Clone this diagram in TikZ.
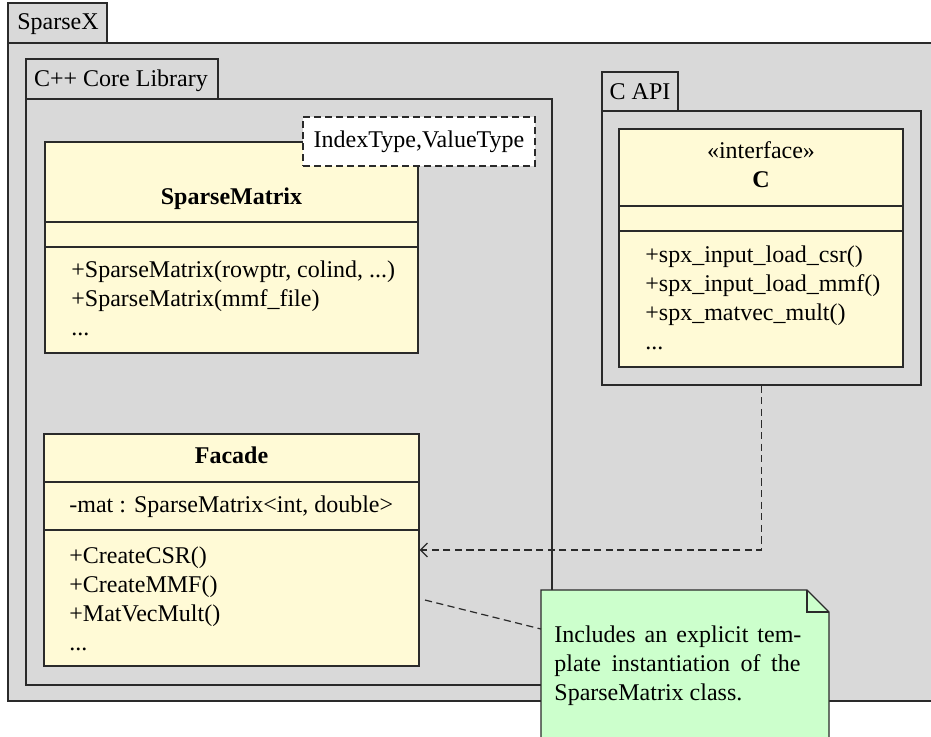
\documentclass[tikz,border=0pt]{standalone}
\usepackage{fontspec}
\setmainfont{Liberation Serif}
\usetikzlibrary{arrows.meta,fit}
\definecolor{pkggray}{HTML}{D9D9D9}
\definecolor{classfill}{HTML}{FFFAD6}
\definecolor{notefill}{HTML}{CCFFCC}
\definecolor{edge}{HTML}{2A2A2A}

\begin{document}
\begin{tikzpicture}[x=0.5pt,y=-0.5pt,
  every node/.style={font=\fontsize{12}{14.5}\selectfont, inner sep=0pt},
  box/.style={draw=edge, line width=0.6pt, inner sep=0pt},
  pkg/.style={box, fill=pkggray},
  cls/.style={box, fill=classfill},
  sep/.style={draw=edge, line width=0.6pt},
  txt/.style={anchor=base west},
  ctxt/.style={anchor=base},
  dep/.style={draw=edge, line width=0.6pt, dash pattern=on 3.6pt off 2.2pt},
]
\useasboundingbox (0,0) rectangle (931,736);
\clip (0,0) rectangle (931,736);
\fill[white] (0,0) rectangle (931,736);

% outer package
\node[pkg, fit={(8,3) (107,43)}] (sxTab) {};
\node[pkg, fit={(8,43) (934,701)}] (sxBody) {};
\node[ctxt] (sxLabel) at (58,29) {SparseX};

% C++ core library package
\node[pkg, fit={(26,59) (218,99)}] (coreTab) {};
\node[pkg, fit={(26,99) (552,685)}] (coreBody) {};
\node[ctxt] (coreLabel) at (121,86) {C++ Core Library};

% SparseMatrix template class
\node[cls, fit={(45,142) (418,353)}] (spm) {};
\draw[sep] (spm.west |- 0,222) -- (spm.east |- 0,222);
\draw[sep] (spm.west |- 0,247) -- (spm.east |- 0,247);
\node[ctxt] (spmName) at (231.5,204) {\bfseries SparseMatrix};
\node[txt] (spmM1) at (71,277) {+SparseMatrix(rowptr, colind, ...)};
\node[txt] (spmM2) at (71,306) {+SparseMatrix(mmf\_file)};
\node[txt] (spmM3) at (71,335) {...};

% template parameters
\node[box, fill=white, dash pattern=on 3.5pt off 2pt, fit={(303,117) (535,166)}] (tmpl) {};
\node[ctxt] (tmplText) at (419,147) {IndexType,ValueType};

% Facade class
\node[cls, fit={(44,434) (419,666)}] (fac) {};
\draw[sep] (fac.west |- 0,482) -- (fac.east |- 0,482);
\draw[sep] (fac.west |- 0,530) -- (fac.east |- 0,530);
\node[ctxt] (facName) at (231.5,463) {\bfseries Facade};
\node[txt] (facA1) at (69,512) {-mat : SparseMatrix<int, double>};
\node[txt] (facM1) at (69,563) {+CreateCSR()};
\node[txt] (facM2) at (69,592) {+CreateMMF()};
\node[txt] (facM3) at (69,621) {+MatVecMult()};
\node[txt] (facM4) at (69,650) {...};

% C API package
\node[pkg, fit={(602,72) (678,111)}] (capiTab) {};
\node[pkg, fit={(602,111) (921,385)}] (capi) {};
\node[ctxt] (capiLabel) at (640,99) {C API};

% C interface
\node[cls, fit={(619,129) (903,367)}] (cif) {};
\draw[sep] (cif.west |- 0,206) -- (cif.east |- 0,206);
\draw[sep] (cif.west |- 0,231) -- (cif.east |- 0,231);
\node[ctxt] (cifStereo) at (761,158) {«interface»};
\node[ctxt] (cifName) at (761,187) {\bfseries C};
\node[txt] (cifM1) at (645,262) {+spx\_input\_load\_csr()};
\node[txt] (cifM2) at (645,291) {+spx\_input\_load\_mmf()};
\node[txt] (cifM3) at (645,320) {+spx\_matvec\_mult()};
\node[txt] (cifM4) at (645,349) {...};

% dependency from the C API to the facade
\draw[dep, -{Straight Barb[length=3.5pt,width=7pt]}] (capi.south) |- (fac.east |- 0,550);

% note with folded corner
\coordinate (noteNW) at (541,590);
\coordinate (noteFold) at (807,590);
\coordinate (noteFoldB) at (829,612);
\coordinate (noteFoldC) at (807,612);
\coordinate (noteSE) at (829,760);
\coordinate (noteSW) at (541,760);
\filldraw[fill=notefill, draw=edge, line width=0.6pt]
  (noteNW) -- (noteFold) -- (noteFoldB) -- (noteSE) -- (noteSW) -- cycle;
\draw[draw=edge, line width=0.6pt] (noteFold) -- (noteFoldC) -- (noteFoldB);
\node[txt] (noteL1) at (554,642) {\makebox[123.5pt][s]{Includes an explicit tem-}};
\node[txt] (noteL2) at (554,671) {\makebox[123pt][s]{plate instantiation of the}};
\node[txt] (noteL3) at (554,700) {SparseMatrix class.};

% note attachment
\coordinate (facNote) at (425,600);
\coordinate (noteIn) at (541,629);
\draw[dep] (facNote) -- (noteIn);
\end{tikzpicture}
\end{document}
